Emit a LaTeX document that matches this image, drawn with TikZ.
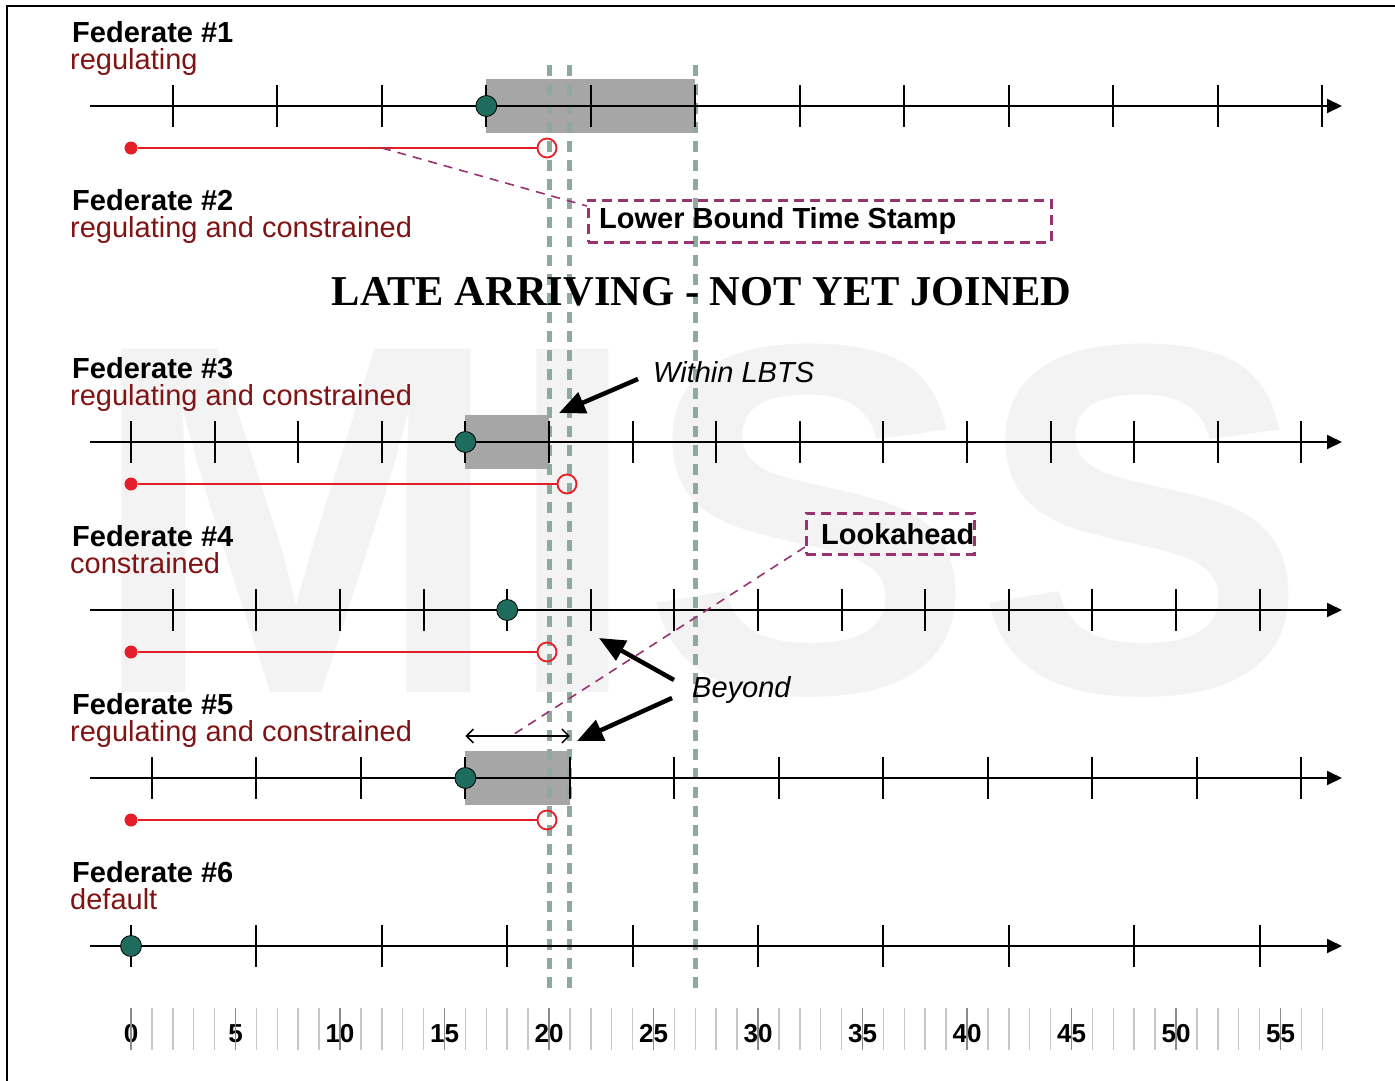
\documentclass[tikz,border=0pt]{standalone}
\usepackage{fontspec}
\setmainfont{Liberation Sans}
\newfontfamily\titlefont{Liberation Serif}
\usetikzlibrary{arrows.meta}
\definecolor{fedred}{RGB}{128,20,20}
\definecolor{lred}{RGB}{228,30,38}
\definecolor{tealdot}{RGB}{30,108,94}
\definecolor{boxg}{RGB}{166,166,166}
\definecolor{gdash}{RGB}{143,170,156}
\definecolor{purp}{RGB}{153,51,112}
\definecolor{wmark}{RGB}{243,243,243}
\definecolor{scalelight}{RGB}{200,200,200}
\definecolor{scaledark}{RGB}{140,140,140}
\tikzset{
  fedname/.style={anchor=base west, inner sep=0pt, font=\fontsize{29}{34}\selectfont\bfseries},
  fedmode/.style={anchor=base west, inner sep=0pt, font=\fontsize{29}{34}\selectfont, text=fedred},
  axisline/.style={line width=2pt, -{Triangle[length=15pt,width=14pt]}},
  tickmark/.style={line width=2pt},
  grayblock/.style={fill=boxg},
  tdot/.style={circle, fill=tealdot, draw=black, line width=0.8pt, minimum size=21pt, inner sep=0pt},
  rstart/.style={circle, fill=lred, minimum size=13pt, inner sep=0pt},
  rend/.style={circle, draw=lred, line width=1.8pt, minimum size=19pt, inner sep=0pt},
  redline/.style={draw=lred, line width=2pt},
  lbtsline/.style={draw=gdash, line width=5pt, dash pattern=on 11pt off 8pt},
  callout/.style={draw=purp, line width=2.8pt, dash pattern=on 10pt off 6pt, inner sep=0pt, anchor=north west},
  leader/.style={draw=purp, line width=1.6pt, dash pattern=on 9pt off 7pt},
  bigarrow/.style={line width=4.5pt, -{Triangle[length=26pt,width=22pt]}},
  dblarrow/.style={line width=1.5pt, {Straight Barb[length=7pt,width=14pt]}-{Straight Barb[length=7pt,width=14pt]}},
  note/.style={font=\fontsize{29}{34}\selectfont\itshape, anchor=base west, inner sep=0pt},
  calltext/.style={font=\fontsize{29}{34}\selectfont\bfseries, anchor=base west, inner sep=0pt},
  scalenum/.style={font=\fontsize{26}{30}\selectfont\bfseries, anchor=base, inner sep=0pt},
  scalelight/.style={draw=scalelight, line width=1.5pt},
  scaledark/.style={draw=scaledark, line width=1.8pt}
}
\begin{document}
\begin{tikzpicture}[x=1pt,y=-1pt]
\useasboundingbox (0,0) rectangle (1395,1080);
\fill[white] (0,0) rectangle (1395,1080);
% watermark
\node[anchor=base west, inner sep=0pt, text=wmark, font=\fontsize{499}{499}\selectfont\bfseries] (wm) at (88,692) {MISS};
% frame
\draw[line width=2.5pt] (7,1090) -- (7,6) -- (1400,6);

% gray blocks
\fill[grayblock] ({131+20.9*17},79) rectangle ({131+20.9*27},133);
\fill[grayblock] ({131+20.9*16},415) rectangle ({131+20.9*20},469);
\fill[grayblock] ({131+20.9*16},751) rectangle ({131+20.9*21},805);

% LBTS dashed guides
\foreach \t/\n in {20/g1,21/g2,27/g3}{
  \coordinate (\n a) at ({131+20.9*\t},65);
  \coordinate (\n b) at ({131+20.9*\t},988);
  \draw[lbtsline] (\n a) -- (\n b);
}

% axes
\foreach \y/\n in {106/1,442/3,610/4,778/5,946/6}{
  \coordinate (ax\n s) at (90,\y);
  \coordinate (ax\n e) at (1342,\y);
  \draw[axisline] (ax\n s) -- (ax\n e);
}
\foreach \t in {2,7,...,57} \draw[tickmark] ({131+20.9*\t},85) -- ++(0,42);
\foreach \t in {0,4,...,56} \draw[tickmark] ({131+20.9*\t},421) -- ++(0,42);
\foreach \t in {2,6,...,54} \draw[tickmark] ({131+20.9*\t},589) -- ++(0,42);
\foreach \t in {1,6,...,56} \draw[tickmark] ({131+20.9*\t},757) -- ++(0,42);
\foreach \t in {0,6,...,54} \draw[tickmark] ({131+20.9*\t},925) -- ++(0,42);

% red LBTS lines
\foreach \y/\e/\n in {148/547/1,484/567/3,652/547/4,820/547/5}{
  \node[rstart] (rs\n) at (131,\y) {};
  \node[rend] (re\n) at (\e,\y) {};
  \draw[redline] (rs\n) -- (re\n);
}

% current time dots
\node[tdot] (d1) at ({131+20.9*17},106) {};
\node[tdot] (d3) at ({131+20.9*16},442) {};
\node[tdot] (d4) at ({131+20.9*18},610) {};
\node[tdot] (d5) at ({131+20.9*16},778) {};
\node[tdot] (d6) at (131,946) {};

% federate labels
\node[fedname] (f1) at (72,42) {Federate \#1};
\node[fedmode] (m1) at (70,69) {regulating};
\node[fedname] (f2) at (72,210) {Federate \#2};
\node[fedmode] (m2) at (70,237) {regulating and constrained};
\node[fedname] (f3) at (72,378) {Federate \#3};
\node[fedmode] (m3) at (70,405) {regulating and constrained};
\node[fedname] (f4) at (72,546) {Federate \#4};
\node[fedmode] (m4) at (70,573) {constrained};
\node[fedname] (f5) at (72,714) {Federate \#5};
\node[fedmode] (m5) at (70,741) {regulating and constrained};
\node[fedname] (f6) at (72,882) {Federate \#6};
\node[fedmode] (m6) at (70,909) {default};

% title
\node[anchor=base, inner sep=0pt, font=\titlefont\bfseries\fontsize{42.5}{50}\selectfont] (title) at (701.5,305) {LATE ARRIVING - NOT YET JOINED};

% Lower Bound Time Stamp callout
\node[callout, minimum width=463pt, minimum height=42pt] (lbtsbox) at (587,199) {};
\node[calltext] (lbtstext) at (599,228) {Lower Bound Time Stamp};
\coordinate (lb1) at (382,148);
\coordinate (lb2) at (587,206);
\draw[leader] (lb1) -- (lb2);

% Lookahead callout
\node[callout, minimum width=168pt, minimum height=41pt] (lkbox) at (805,512) {};
\node[calltext] (lktext) at (821,544) {Lookahead};
\coordinate (lk1) at (805,547);
\coordinate (lk2) at (511,736);
\draw[leader] (lk1) -- (lk2);

% lookahead span
\coordinate (da1) at ({131+20.9*16},736);
\coordinate (da2) at ({131+20.9*21},736);
\draw[dblarrow] (da1) -- (da2);

% notes and arrows
\node[note] (within) at (653,382) {Within LBTS};
\coordinate (wa) at (638,379);
\coordinate (wt) at (559,413);
\draw[bigarrow] (wa) -- (wt);

\node[note] (beyond) at (692,697) {Beyond};
\coordinate (b1s) at (674,680);
\coordinate (b1t) at (599,638);
\draw[bigarrow] (b1s) -- (b1t);
\coordinate (b2s) at (672,698);
\coordinate (b2t) at (577,741);
\draw[bigarrow] (b2s) -- (b2t);

% bottom time scale
\foreach \t in {0,5,...,55} \node[scalenum] (n\t) at ({131+20.9*\t},1042) {\t};
\foreach \t in {0,...,57}{
  \pgfmathtruncatemacro{\r}{mod(\t,5)}
  \ifnum\r=0
    \draw[scaledark] ({131+20.9*\t},1008) -- ++(0,42);
  \else
    \draw[scalelight] ({131+20.9*\t},1008) -- ++(0,42);
  \fi
}
\end{tikzpicture}
\end{document}
